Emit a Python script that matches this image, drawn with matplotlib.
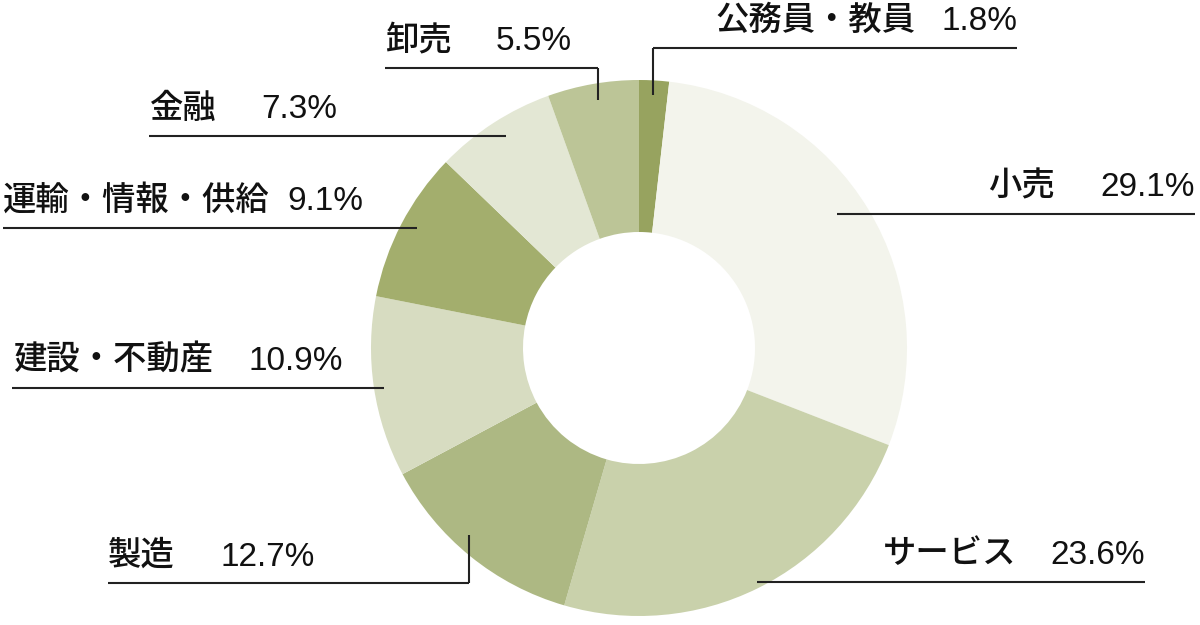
import matplotlib
matplotlib.use("Agg")
from matplotlib import pyplot as plt

# data (clockwise from 12 o'clock)
categories = ["公務員・教員", "小売", "サービス", "製造", "建設・不動産",
              "運輸・情報・供給", "金融", "卸売"]
shares = [1.8, 29.1, 23.6, 12.7, 10.9, 9.1, 7.3, 5.5]
colors = ["#97a35f", "#f3f4ec", "#c9d1ab", "#adb883", "#d7dcc1",
          "#a3ae6d", "#e3e7d4", "#bcc597"]

# layout in pixel coords (y from top): name left x, percent right x, line y,
# line start x, line end x, optional vertical drop to y
layout = {
    "公務員・教員": (715, 1017, 48, 653, 1017, (653, 95)),
    "小売": (988, 1195, 214, 837, 1195, None),
    "サービス": (883, 1145, 582, 757, 1145, None),
    "製造": (108, 315, 583, 108, 469, (469, 535)),
    "建設・不動産": (13, 343, 388, 12, 384, None),
    "運輸・情報・供給": (3, 363, 228, 3, 417, None),
    "金融": (150, 337, 136, 149, 506, None),
    "卸売": (385, 572, 68, 385, 598, (598, 100)),
}

W, H = 1200, 625
fig = plt.figure(figsize=(W / 100, H / 100), dpi=100)
ax = fig.add_axes([0, 0, 1, 1])

R_OUT, R_IN = 268, 116
ax.pie(shares, colors=colors, center=(639, 348), radius=R_OUT,
       startangle=-90, counterclock=True, frame=True,
       wedgeprops=dict(width=R_OUT - R_IN, linewidth=0))
ax.set_xlim(0, W)
ax.set_ylim(H, 0)
ax.set_aspect("equal")
ax.axis("off")

for name, val in zip(categories, shares):
    nx, px, ly, x0, x1, drop = layout[name]
    ax.plot([x0, x1], [ly, ly], color="#222222", lw=1.5, solid_capstyle="butt")
    if drop is not None:
        ax.plot([drop[0], drop[0]], [ly, drop[1]], color="#222222", lw=1.5,
                solid_capstyle="butt")
    ty = ly - 28
    ax.text(nx, ty, name, ha="left", va="center", fontsize=24,
            fontweight="medium",
            family=["Noto Sans CJK JP", "DejaVu Sans"], color="#111111")
    ax.text(px, ty + 2, f"{val:.1f}%", ha="right", va="center", fontsize=24,
            family=["Liberation Sans", "DejaVu Sans"], color="#111111")

fig.savefig("out.png", dpi=100)
